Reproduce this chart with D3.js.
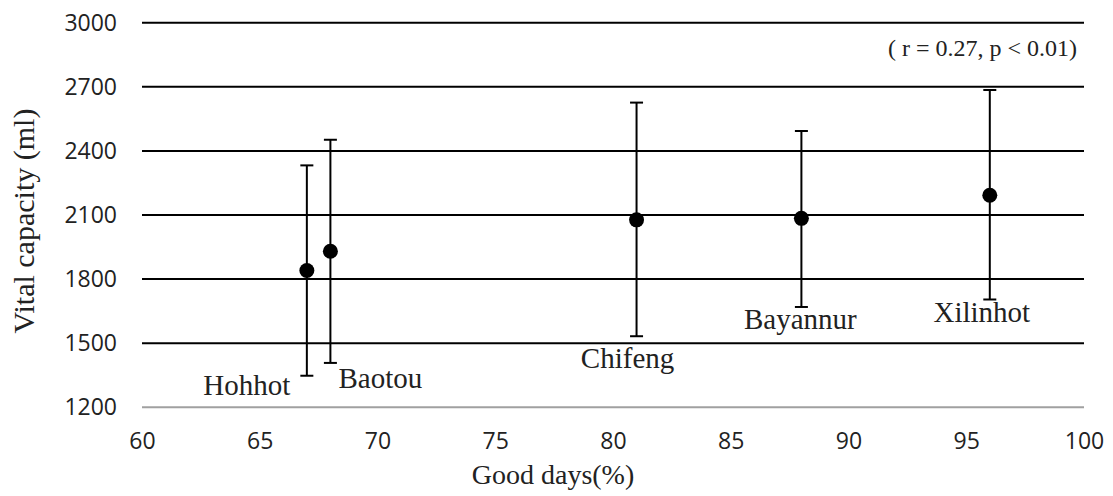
<!DOCTYPE html>
<html>
<head>
<meta charset="utf-8">
<script src="https://cdn.jsdelivr.net/npm/d3@7"></script>
<style>
  body { margin: 0; background: #fff; }
  svg { display: block; }
</style>
</head>
<body>
<div id="chart"></div>
<script>
const cities = ['Hohhot', 'Baotou', 'Chifeng', 'Bayannur', 'Xilinhot'];
const goodDays = [67, 68, 81, 88, 96];
const capacityMean = [1838, 1928, 2075, 2082, 2190];
const capacityLow = [1345, 1405, 1530, 1667, 1702];
const capacityHigh = [2330, 2450, 2624, 2491, 2683];
const xTicks = [60, 65, 70, 75, 80, 85, 90, 95, 100];
const yTicks = [1200, 1500, 1800, 2100, 2400, 2700, 3000];
const note = '( r = 0.27, p < 0.01)';

// label placement relative to the lower whisker end (px)
const labelOffset = [
  {dx: -60, dy: 19}, {dx: 50, dy: 25}, {dx: -9, dy: 32}, {dx: -1, dy: 22}, {dx: -8, dy: 23}
];

const width = 1113;
const height = 496;
const plot = {left: 142, right: 1084, top: 22.3, bottom: 406.7};
const serif = '"Liberation Serif", "Times New Roman", serif';
const sans = '"Open Sans", "Noto Sans", sans-serif';

const data = cities.map((c, i) => ({
  city: c, x: goodDays[i], mean: capacityMean[i], low: capacityLow[i], high: capacityHigh[i], off: labelOffset[i]
}));

const svg = d3.select('#chart')
  .append('svg')
  .attr('width', width)
  .attr('height', height);

const xScale = d3.scaleLinear()
  .domain([60, 100])
  .range([plot.left, plot.right]);

const yScale = d3.scaleLinear()
  .domain([1200, 3000])
  .range([plot.bottom, plot.top]);

// horizontal gridlines + y tick labels
const yAxis = d3.axisLeft(yScale)
  .tickValues(yTicks)
  .tickSize(-(plot.right - plot.left))
  .tickPadding(25)
  .tickFormat(d3.format('d'));

const gy = svg.append('g')
  .attr('class', 'y-axis')
  .attr('transform', `translate(${plot.left}, 0)`)
  .call(yAxis);

gy.select('.domain').remove();
gy.selectAll('.tick line')
  .attr('stroke', d => d === 1200 ? '#a0a0a0' : '#000')
  .attr('stroke-width', 2);
gy.selectAll('.tick text')
  .style('font-family', sans)
  .style('font-size', '23px')
  .attr('fill', '#222')
  .attr('dy', '0.36em');

// x tick labels
const xAxis = d3.axisBottom(xScale)
  .tickValues(xTicks)
  .tickSize(0)
  .tickFormat(d3.format('d'));

const gx = svg.append('g')
  .attr('class', 'x-axis')
  .attr('transform', `translate(0, ${plot.bottom})`)
  .call(xAxis);

gx.select('.domain').remove();
gx.selectAll('.tick text')
  .style('font-family', sans)
  .style('font-size', '23px')
  .attr('fill', '#222')
  .attr('y', 42)
  .attr('dy', 0);

// error bars
const bars = svg.append('g').attr('class', 'error-bars');
const capHalf = 6.5;

bars.selectAll('line.whisker')
  .data(data)
  .join('line')
  .attr('class', 'whisker')
  .attr('x1', d => xScale(d.x))
  .attr('x2', d => xScale(d.x))
  .attr('y1', d => yScale(d.low))
  .attr('y2', d => yScale(d.high))
  .attr('stroke', '#000')
  .attr('stroke-width', 2);

bars.selectAll('line.cap-top')
  .data(data)
  .join('line')
  .attr('class', 'cap-top')
  .attr('x1', d => xScale(d.x) - capHalf)
  .attr('x2', d => xScale(d.x) + capHalf)
  .attr('y1', d => yScale(d.high))
  .attr('y2', d => yScale(d.high))
  .attr('stroke', '#000')
  .attr('stroke-width', 2);

bars.selectAll('line.cap-bottom')
  .data(data)
  .join('line')
  .attr('class', 'cap-bottom')
  .attr('x1', d => xScale(d.x) - capHalf)
  .attr('x2', d => xScale(d.x) + capHalf)
  .attr('y1', d => yScale(d.low))
  .attr('y2', d => yScale(d.low))
  .attr('stroke', '#000')
  .attr('stroke-width', 2);

svg.append('g')
  .attr('class', 'points')
  .selectAll('circle')
  .data(data)
  .join('circle')
  .attr('cx', d => xScale(d.x))
  .attr('cy', d => yScale(d.mean))
  .attr('r', 7.5)
  .attr('fill', '#000');

// city labels
svg.append('g')
  .attr('class', 'city-labels')
  .selectAll('text')
  .data(data)
  .join('text')
  .attr('x', d => xScale(d.x) + d.off.dx)
  .attr('y', d => yScale(d.low) + d.off.dy)
  .attr('text-anchor', 'middle')
  .style('font-family', serif)
  .style('font-size', '29px')
  .attr('fill', '#222')
  .text(d => d.city);

// correlation note
svg.append('text')
  .attr('x', 1077)
  .attr('y', 56)
  .attr('text-anchor', 'end')
  .style('font-family', serif)
  .style('font-size', '24px')
  .attr('fill', '#222')
  .text(note);

// axis titles
svg.append('text')
  .attr('x', 553)
  .attr('y', 484)
  .attr('text-anchor', 'middle')
  .style('font-family', serif)
  .style('font-size', '28px')
  .attr('fill', '#222')
  .text('Good days(%)');

svg.append('text')
  .attr('text-anchor', 'middle')
  .attr('transform', `translate(34, 221) rotate(-90)`)
  .style('font-family', serif)
  .style('font-size', '30px')
  .attr('fill', '#222')
  .text('Vital capacity (ml)');
</script>
</body>
</html>
